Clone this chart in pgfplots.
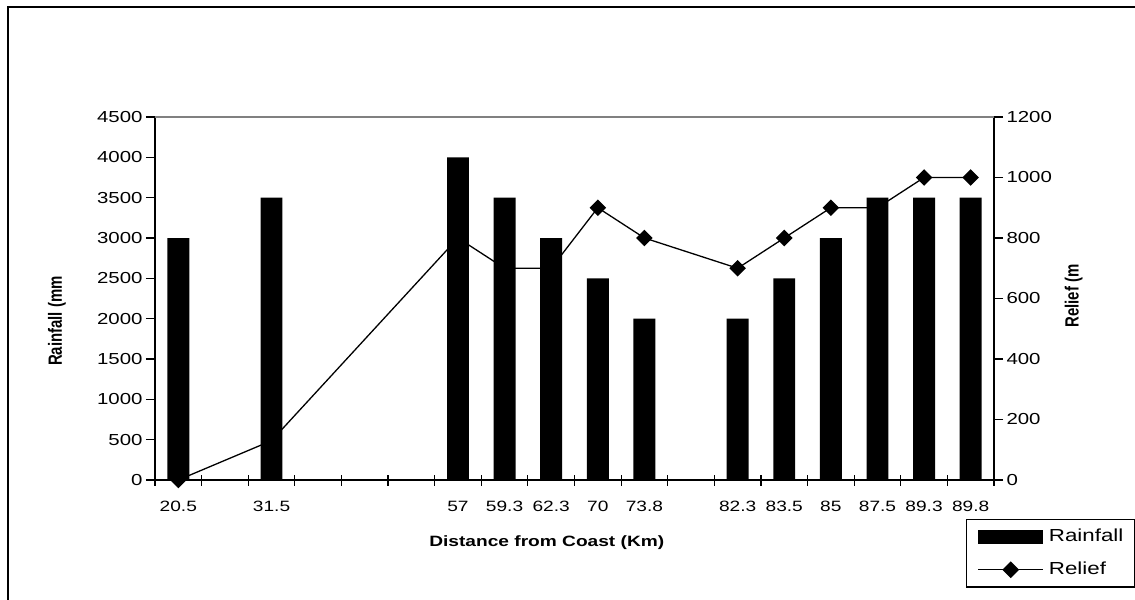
\documentclass[border=0pt]{standalone}
\usepackage{fontspec}
\setmainfont{Liberation Sans}
\usepackage{pgfplots}
\pgfplotsset{compat=1.18}
\newcommand\sx[1]{\scalebox{1.28}[1]{#1}}
\newcommand\sr[1]{\scalebox{1}[1.28]{#1}}
\begin{document}
\begin{tikzpicture}
\useasboundingbox (-155bp,-120bp) rectangle (980bp,480bp);
\draw[line width=1.6bp] (-147bp,-125bp) -- (-147bp,473bp) -- (985bp,473bp);
% Relief axis (drawn first, so bars cover it)
\begin{axis}[
  at={(0,0)}, anchor=south west,
  scale only axis, width=839bp, height=363bp,
  xmin=-0.5, xmax=17.5, ymin=0, ymax=1200,
  axis x line=none, axis y line*=right,
  axis line style={line width=1.3bp, black},
  ytick={0,200,...,1200},
  ytick align=outside, major tick length=9bp,
  tick style={black, line width=1.2bp},
  /pgf/number format/assume math mode=true,
  /pgf/number format/1000 sep={},
  scaled y ticks=false,
  yticklabel={\sx{\pgfmathprintnumber{\tick}}},
  yticklabel style={font=\fontsize{16}{16}\selectfont},
  ylabel={\sr{\bfseries\fontsize{15}{15}\selectfont Relief (m}},
  ylabel style={at={(rel axis cs:1.095,0.507)}, anchor=center},
  clip=false,
]
\addplot[black, line width=1.3bp, mark=square*, mark size=5.2bp, mark options={rotate=45, solid}]
 coordinates {(0,0) (2,130) (6,800) (7,700) (8,700) (9,900) (10,800) (12,700) (13,800) (14,900) (15,900) (16,1000) (17,1000)};
\end{axis}
% Rainfall axis
\begin{axis}[
  at={(0,0)}, anchor=south west,
  scale only axis, width=839bp, height=363bp,
  xmin=-0.5, xmax=17.5, ymin=0, ymax=4500,
  axis x line*=bottom, axis y line*=left,
  axis line style={line width=1.3bp, black},
  xtick={0,2,6,7,8,9,10,12,13,14,15,16,17},
  xticklabels={\sx{20.5},\sx{31.5},\sx{57},\sx{59.3},\sx{62.3},\sx{70},\sx{73.8},\sx{82.3},\sx{83.5},\sx{85},\sx{87.5},\sx{89.3},\sx{89.8}},
  major x tick style={draw=none},
  minor xtick={-0.5,0.5,...,17.5},
  minor tick length=11bp,
  xtick align=center,
  ytick={0,500,...,4500},
  ytick align=outside, major tick length=9bp,
  tick style={black, line width=1.2bp},
  /pgf/number format/assume math mode=true,
  /pgf/number format/1000 sep={},
  scaled y ticks=false,
  yticklabel={\sx{\pgfmathprintnumber{\tick}}},
  yticklabel style={font=\fontsize{16}{16}\selectfont},
  xticklabel style={font=\fontsize{15}{15}\selectfont, yshift=-13bp},
  xlabel={\sx{\bfseries Distance from Coast (Km)}},
  xlabel style={at={(rel axis cs:0.467,-0.172)}, anchor=center, font=\fontsize{15}{15}\selectfont},
  ylabel={\sr{\bfseries\fontsize{15}{15}\selectfont Rainfall (mm}},
  ylabel style={at={(rel axis cs:-0.1168,0.438)}, anchor=center},
  legend style={at={(rel axis cs:0.9666,-0.1074)}, anchor=north west, draw=black, line width=1.3bp, fill=white,
    inner xsep=11bp, inner ysep=9bp, row sep=17bp, column sep=5bp,
    font=\fontsize{17.5}{17.5}\selectfont,
    nodes={inner sep=0pt, text height=12.5bp, text depth=3.5bp}},
  legend cell align=left,
  clip=false,
]
\draw[gray, line width=1.3bp] (rel axis cs:0,1) -- (rel axis cs:1,1);
\addplot[ybar, fill=black, draw=none, bar width=0.47,
  legend image code/.code={\fill[black] (0bp,-7bp) rectangle (65bp,7bp);}]
 coordinates {(0,3000) (2,3500) (6,4000) (7,3500) (8,3000) (9,2500) (10,2000) (12,2000) (13,2500) (14,3000) (15,3500) (16,3500) (17,3500)};
\addlegendentry{\sx{Rainfall}}
\addlegendimage{legend image code/.code={\draw[black, line width=1.3bp] (0bp,0bp) -- (65bp,0bp); \fill[black] (25bp,0bp) -- (32.5bp,7.5bp) -- (40bp,0bp) -- (32.5bp,-7.5bp) -- cycle;}}
\addlegendentry{\sx{Relief}}
\end{axis}
\end{tikzpicture}
\end{document}
